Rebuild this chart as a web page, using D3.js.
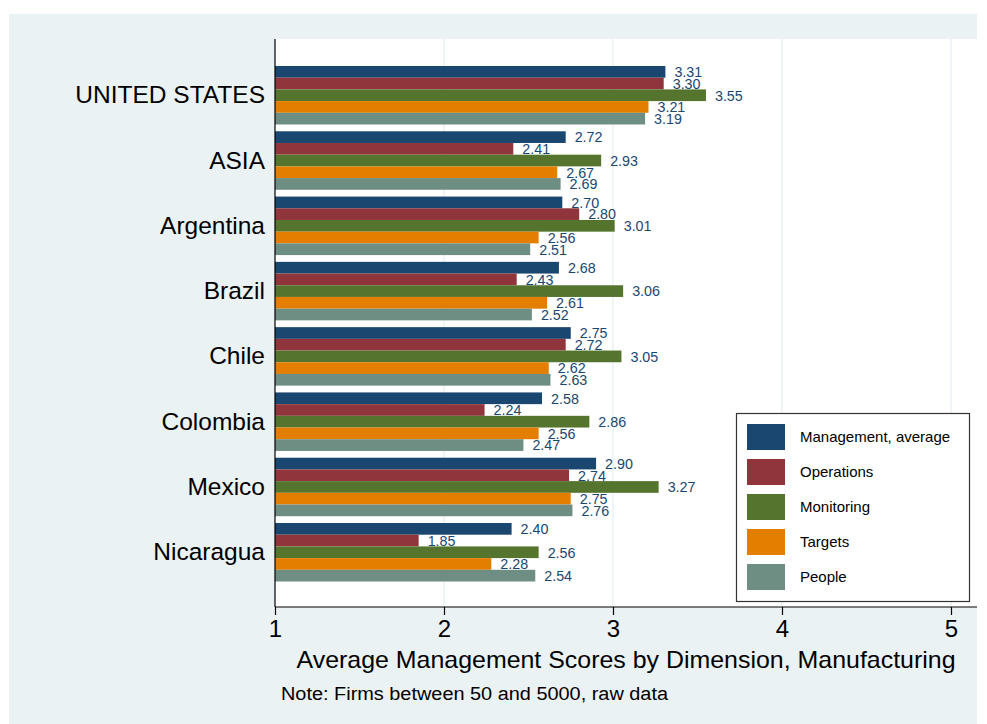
<!DOCTYPE html>
<html>
<head>
<meta charset="utf-8">
<script src="https://cdn.jsdelivr.net/npm/d3@7"></script>
<style>
  body { margin: 0; background: #fff; }
  svg { display: block; font-family: "Liberation Sans", Arial, Helvetica, sans-serif; }
</style>
</head>
<body>
<script>
// data
var countries = ["UNITED STATES", "ASIA", "Argentina", "Brazil", "Chile", "Colombia", "Mexico", "Nicaragua"];
var seriesNames = ["Management, average", "Operations", "Monitoring", "Targets", "People"];
var management = [3.31, 2.72, 2.70, 2.68, 2.75, 2.58, 2.90, 2.40];
var operations = [3.30, 2.41, 2.80, 2.43, 2.72, 2.24, 2.74, 1.85];
var monitoring = [3.55, 2.93, 3.01, 3.06, 3.05, 2.86, 3.27, 2.56];
var targets    = [3.21, 2.67, 2.56, 2.61, 2.62, 2.56, 2.75, 2.28];
var people     = [3.19, 2.69, 2.51, 2.52, 2.63, 2.47, 2.76, 2.54];
var xTicks = [1, 2, 3, 4, 5];

var seriesValues = [management, operations, monitoring, targets, people];
var colors = ["#1a476f", "#90353b", "#55752f", "#e37e00", "#6e8e84"];

var W = 987, H = 724;
var plot = { left: 275, right: 977, top: 39, bottom: 607 };

var svg = d3.select("body").append("svg")
  .attr("width", W)
  .attr("height", H);

// graph region background
svg.append("rect")
  .attr("x", 9).attr("y", 14)
  .attr("width", 968).attr("height", H - 14)
  .attr("fill", "#eaf2f3");

// plot region
svg.append("rect")
  .attr("x", plot.left).attr("y", plot.top)
  .attr("width", plot.right - plot.left).attr("height", plot.bottom - plot.top)
  .attr("fill", "#ffffff");

var x = d3.scaleLinear().domain([1, 5]).range([275, 951]);

var y = d3.scaleBand()
  .domain(countries)
  .range([66, 581.5])
  .paddingInner(0.104)
  .paddingOuter(0);

var ySub = d3.scaleBand()
  .domain(d3.range(seriesNames.length))
  .range([0, y.bandwidth()])
  .padding(0);

// gridlines
svg.append("g")
  .selectAll("line")
  .data(xTicks.slice(1))
  .enter()
  .append("line")
  .attr("x1", function(d) { return x(d); })
  .attr("x2", function(d) { return x(d); })
  .attr("y1", plot.top)
  .attr("y2", plot.bottom)
  .attr("stroke", "#eaf2f3")
  .attr("stroke-width", 1.5);

// bars
var rows = [];
countries.forEach(function(c, i) {
  seriesValues.forEach(function(vals, s) {
    rows.push({ country: c, s: s, v: vals[i] });
  });
});

svg.append("g")
  .selectAll("rect")
  .data(rows)
  .enter()
  .append("rect")
  .attr("x", x(1))
  .attr("y", function(d) { return y(d.country) + ySub(d.s); })
  .attr("width", function(d) { return x(d.v) - x(1); })
  .attr("height", ySub.bandwidth())
  .attr("fill", function(d) { return colors[d.s]; });

// value labels
svg.append("g")
  .selectAll("text")
  .data(rows)
  .enter()
  .append("text")
  .attr("x", function(d) { return x(d.v) + 9; })
  .attr("y", function(d) { return y(d.country) + ySub(d.s) + ySub.bandwidth() / 2 + 1.5; })
  .attr("dominant-baseline", "middle")
  .attr("font-size", 14.3)
  .attr("fill", "#1a476f")
  .text(function(d) { return d.v.toFixed(2); });

// category labels
svg.append("g")
  .selectAll("text")
  .data(countries)
  .enter()
  .append("text")
  .attr("x", 265)
  .attr("y", function(d) { return y(d) + y.bandwidth() / 2 + 1.5; })
  .attr("text-anchor", "end")
  .attr("dominant-baseline", "middle")
  .attr("font-size", 24.5)
  .attr("fill", "#000")
  .text(function(d) { return d; });

// axes
svg.append("line")
  .attr("x1", plot.left).attr("x2", plot.left)
  .attr("y1", plot.top).attr("y2", plot.bottom)
  .attr("stroke", "#000").attr("stroke-width", 1.2);

var xAxis = d3.axisBottom(x)
  .tickValues(xTicks)
  .tickSize(8)
  .tickPadding(5)
  .tickFormat(d3.format("d"));

var gx = svg.append("g")
  .attr("transform", "translate(0," + plot.bottom + ")")
  .call(xAxis);
gx.select(".domain")
  .attr("d", "M" + plot.left + ",0H" + plot.right)
  .attr("stroke", "#000").attr("stroke-width", 1.2);
gx.selectAll(".tick line").attr("stroke", "#000").attr("stroke-width", 1.2);
gx.selectAll(".tick text")
  .attr("font-size", 24)
  .attr("font-family", "Liberation Sans, Arial, sans-serif")
  .attr("fill", "#000");

// axis title
svg.append("text")
  .attr("x", (plot.left + plot.right) / 2)
  .attr("y", 668)
  .attr("text-anchor", "middle")
  .attr("font-size", 24)
  .attr("textLength", 659)
  .attr("lengthAdjust", "spacingAndGlyphs")
  .attr("fill", "#000")
  .text("Average Management Scores by Dimension, Manufacturing");

// note
svg.append("text")
  .attr("x", 281)
  .attr("y", 700)
  .attr("font-size", 18)
  .attr("textLength", 387)
  .attr("lengthAdjust", "spacingAndGlyphs")
  .attr("fill", "#000")
  .text("Note: Firms between 50 and 5000, raw data");

// legend
var legend = svg.append("g");
legend.append("rect")
  .attr("x", 736.5).attr("y", 413.5)
  .attr("width", 233).attr("height", 188)
  .attr("fill", "#fff")
  .attr("stroke", "#333").attr("stroke-width", 1.2);

var li = legend.selectAll("g.item")
  .data(seriesNames)
  .enter()
  .append("g")
  .attr("class", "item")
  .attr("transform", function(d, i) { return "translate(747," + (424 + i * 35) + ")"; });

li.append("rect")
  .attr("width", 38).attr("height", 26)
  .attr("fill", function(d, i) { return colors[i]; });

li.append("text")
  .attr("x", 53).attr("y", 14)
  .attr("dominant-baseline", "middle")
  .attr("font-size", 15)
  .attr("fill", "#000")
  .text(function(d) { return d; });
</script>
</body>
</html>
